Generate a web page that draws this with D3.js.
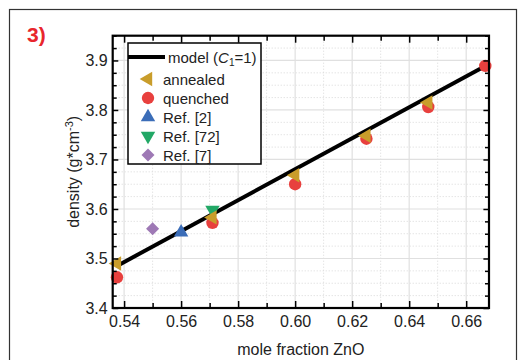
<!DOCTYPE html>
<html>
<head>
<meta charset="utf-8">
<script src="https://cdn.jsdelivr.net/npm/d3@7"></script>
<style>
  body { margin: 0; background: #fff; }
  text { font-family: "Liberation Sans", Arial, sans-serif; }
</style>
</head>
<body>
<div id="chart"></div>
<script>
var svgWidth = 522;
var svgHeight = 360;

// data
var modelLine = [[0.5375, 3.485], [0.6667, 3.889]];
var annealed = [[0.5375, 3.49], [0.571, 3.583], [0.60, 3.668], [0.625, 3.748], [0.6467, 3.815]];
var quenched = [[0.5375, 3.462], [0.571, 3.572], [0.60, 3.65], [0.625, 3.742], [0.6467, 3.806], [0.6667, 3.889]];
var ref2 = [[0.56, 3.553]];
var ref72 = [[0.571, 3.598]];
var ref7 = [[0.55, 3.56]];

var xTicks = [0.54, 0.56, 0.58, 0.60, 0.62, 0.64, 0.66];
var xMinor = [0.54, 0.55, 0.56, 0.57, 0.58, 0.59, 0.60, 0.61, 0.62, 0.63, 0.64, 0.65, 0.66];
var yTicks = [3.4, 3.5, 3.6, 3.7, 3.8, 3.9];
var yMinor = d3.range(3.4, 3.951, 0.025).map(d => +d.toFixed(3));

var legendLabels = ["annealed", "quenched", "Ref. [2]", "Ref. [72]", "Ref. [7]"];

var margin = { top: 35.7, right: 33, bottom: 52, left: 112.7 };
var width = svgWidth - margin.left - margin.right;
var height = svgHeight - margin.top - margin.bottom;

var svg = d3.select("#chart")
  .append("svg")
  .attr("width", svgWidth)
  .attr("height", svgHeight);

// outer frame
svg.append("rect")
  .attr("x", 9.5).attr("y", 9.5)
  .attr("width", 507).attr("height", 400)
  .attr("fill", "none")
  .attr("stroke", "#333")
  .attr("stroke-width", 1.2);

svg.append("text")
  .attr("x", 27).attr("y", 42)
  .attr("fill", "#e8262c")
  .attr("font-weight", "bold")
  .attr("font-size", 21)
  .text("3)");

var chartGroup = svg.append("g")
  .attr("transform", `translate(${margin.left}, ${margin.top})`);

var x = d3.scaleLinear().domain([0.536, 0.668]).range([0, width]);
var y = d3.scaleLinear().domain([3.4, 3.95]).range([height, 0]);

// grid
var minorX = xMinor.filter(d => xTicks.indexOf(d) < 0);
var minorY = yMinor.filter(d => yTicks.every(t => Math.abs(t - d) > 1e-6));

chartGroup.selectAll(".gx-minor").data(minorX).enter().append("line")
  .attr("x1", d => x(d)).attr("x2", d => x(d))
  .attr("y1", 0).attr("y2", height)
  .attr("stroke", "#d8d8d8").attr("stroke-dasharray", "1,2");
chartGroup.selectAll(".gy-minor").data(minorY).enter().append("line")
  .attr("y1", d => y(d)).attr("y2", d => y(d))
  .attr("x1", 0).attr("x2", width)
  .attr("stroke", "#d8d8d8").attr("stroke-dasharray", "1,2");
chartGroup.selectAll(".gx").data(xTicks).enter().append("line")
  .attr("x1", d => x(d)).attr("x2", d => x(d))
  .attr("y1", 0).attr("y2", height)
  .attr("stroke", "#e0e0e0").attr("stroke-width", 1.2);
chartGroup.selectAll(".gy").data(yTicks).enter().append("line")
  .attr("y1", d => y(d)).attr("y2", d => y(d))
  .attr("x1", 0).attr("x2", width)
  .attr("stroke", "#e0e0e0").attr("stroke-width", 1.2);

// model line
chartGroup.append("path")
  .datum(modelLine)
  .attr("d", d3.line().x(d => x(d[0])).y(d => y(d[1])))
  .attr("fill", "none")
  .attr("stroke", "#000")
  .attr("stroke-width", 4);

var triSym = d3.symbol().type(d3.symbolTriangle).size(90);
var sqSym = d3.symbol().type(d3.symbolSquare).size(85);

function drawSymbols(data, path, rot, color) {
  chartGroup.append("g").selectAll("path").data(data).enter().append("path")
    .attr("d", path)
    .attr("transform", d => `translate(${x(d[0])},${y(d[1])}) rotate(${rot})`)
    .attr("fill", color);
}

chartGroup.append("g").selectAll("circle").data(quenched).enter().append("circle")
  .attr("cx", d => x(d[0])).attr("cy", d => y(d[1]))
  .attr("r", 6.2).attr("fill", "#e8403e");
drawSymbols(ref2, triSym, 0, "#3b6db8");
drawSymbols(ref72, triSym, 180, "#22a866");
drawSymbols(ref7, sqSym, 45, "#9e79b5");
drawSymbols(annealed, triSym, -90, "#c99d2b");

// axes with inward ticks, mirrored
var clipG = chartGroup.append("g");
function styleAxis(g) {
  g.select(".domain").remove();
  g.selectAll(".tick line").attr("stroke", "#000").attr("stroke-width", 1.5);
  g.selectAll("text").attr("font-size", 16).attr("fill", "#222")
    .style("font-family", "'Liberation Sans', Arial, sans-serif");
}
var bottomAxis = d3.axisBottom(x).tickValues(xMinor).tickSize(-5).tickPadding(8)
  .tickFormat(d => xTicks.some(t => Math.abs(t - d) < 1e-6) ? d3.format(".2f")(d) : "");
clipG.append("g").attr("transform", `translate(0,${height})`).call(bottomAxis).call(styleAxis);
clipG.append("g").call(d3.axisTop(x).tickValues(xMinor).tickSize(-5).tickFormat("")).call(styleAxis);

var leftAxis = d3.axisLeft(y).tickValues(yMinor).tickPadding(5)
  .tickSize(-4)
  .tickFormat(d => yTicks.some(t => Math.abs(t - d) < 1e-6) ? d3.format(".1f")(d) : "");
clipG.append("g").call(leftAxis).call(styleAxis);
clipG.append("g").attr("transform", `translate(${width},0)`)
  .call(d3.axisRight(y).tickValues(yMinor).tickSize(-4).tickFormat("")).call(styleAxis);

// make major ticks a bit longer
clipG.selectAll(".tick").filter(d => xTicks.concat(yTicks).some(t => Math.abs(t - d) < 1e-6))
  .select("line").each(function () {
    var l = d3.select(this);
    if (l.attr("y2")) l.attr("y2", +l.attr("y2") * 1.4);
    if (l.attr("x2")) l.attr("x2", +l.attr("x2") * 1.4);
  });

chartGroup.append("rect")
  .attr("width", width).attr("height", height)
  .attr("fill", "none").attr("stroke", "#000").attr("stroke-width", 2.2);

// axis titles
chartGroup.append("text")
  .attr("x", width / 2).attr("y", height + 47)
  .attr("text-anchor", "middle")
  .attr("font-size", 16).attr("fill", "#222")
  .text("mole fraction ZnO");

var yTitle = chartGroup.append("text")
  .attr("transform", `translate(-34,${height / 2}) rotate(-90)`)
  .attr("text-anchor", "middle")
  .attr("font-size", 16).attr("fill", "#222");
yTitle.append("tspan").text("density (g*cm");
yTitle.append("tspan").attr("dy", -6).attr("font-size", 11).text("-3");
yTitle.append("tspan").attr("dy", 6).text(")");

// legend
var legend = svg.append("g").attr("transform", "translate(128,43)");
legend.append("rect")
  .attr("width", 133).attr("height", 121)
  .attr("fill", "#fff").attr("stroke", "#000").attr("stroke-width", 1.5);
legend.append("line")
  .attr("x1", 0).attr("x2", 37).attr("y1", 14).attr("y2", 14)
  .attr("stroke", "#000").attr("stroke-width", 4);
var mt = legend.append("text").attr("x", 40).attr("y", 19.5).attr("font-size", 15).attr("fill", "#222");
mt.append("tspan").text("model (");
mt.append("tspan").attr("font-style", "italic").text("C");
mt.append("tspan").attr("font-size", 10).attr("dy", 3).text("1");
mt.append("tspan").attr("dy", -3).text("=1)");

var legendSyms = [
  { path: triSym, rot: -90, color: "#c99d2b" },
  { path: d3.symbol().type(d3.symbolCircle).size(120), rot: 0, color: "#e8403e" },
  { path: triSym, rot: 0, color: "#3b6db8" },
  { path: triSym, rot: 180, color: "#22a866" },
  { path: sqSym, rot: 45, color: "#9e79b5" }
];
legendLabels.forEach(function (lab, i) {
  var cy = 36 + i * 19;
  legend.append("path")
    .attr("d", legendSyms[i].path)
    .attr("transform", `translate(20,${cy}) rotate(${legendSyms[i].rot})`)
    .attr("fill", legendSyms[i].color);
  legend.append("text")
    .attr("x", 35).attr("y", cy + 5.5)
    .attr("font-size", 15).attr("fill", "#222")
    .text(lab);
});
</script>
</body>
</html>
